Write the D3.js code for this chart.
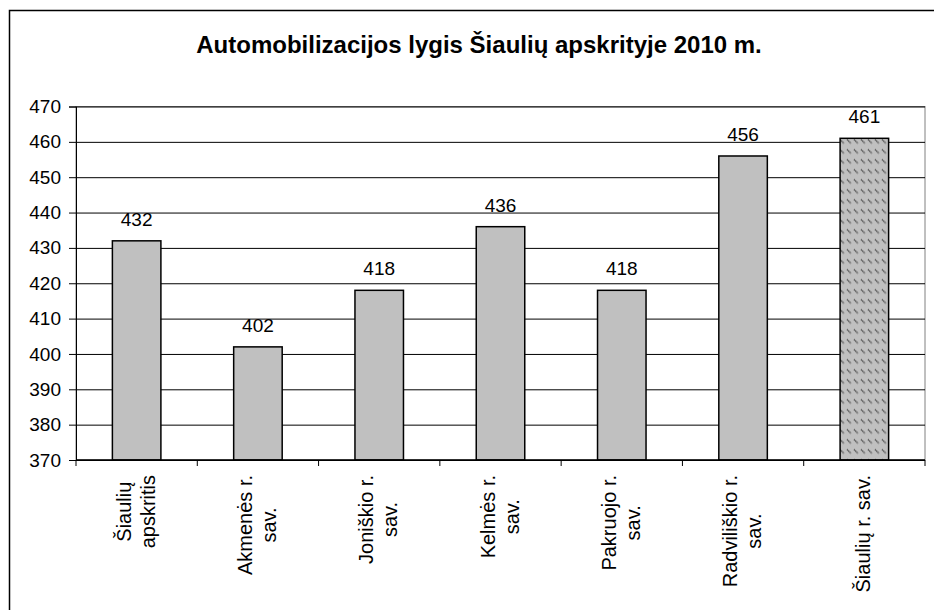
<!DOCTYPE html>
<html>
<head>
<meta charset="utf-8">
<script src="https://cdn.jsdelivr.net/npm/d3@7"></script>
<style>
  body { margin: 0; background: #fff; }
  svg { font-family: Arial, "Liberation Sans", sans-serif; }
</style>
</head>
<body>
<script>
// data
var categories = ["Šiaulių\napskritis", "Akmenės r.\nsav.", "Joniškio r.\nsav.", "Kelmės r.\nsav.",
                  "Pakruojo r.\nsav.", "Radviliškio r.\nsav.", "Šiaulių r. sav."];
var values = [432, 402, 418, 436, 418, 456, 461];
var yTicks = [370, 380, 390, 400, 410, 420, 430, 440, 450, 460, 470];
var titleText = "Automobilizacijos lygis Šiaulių apskrityje 2010 m.";

var W = 934, H = 610;
var margin = { top: 106.5, left: 76 };
var width = 925 - margin.left,
    height = 460 - margin.top;

var svg = d3.select("body").append("svg")
    .attr("width", W)
    .attr("height", H);

// chart area border (runs off the frame on right and bottom)
svg.append("rect")
    .attr("x", 9.5).attr("y", 10.5)
    .attr("width", 1000).attr("height", 1000)
    .attr("fill", "#fff")
    .attr("stroke", "#000")
    .attr("stroke-width", 1.5);

svg.append("text")
    .attr("x", 479)
    .attr("y", 53)
    .attr("text-anchor", "middle")
    .style("font-size", "24px")
    .style("font-weight", "bold")
    .text(titleText);

var defs = svg.append("defs");
var pat = defs.append("pattern")
    .attr("id", "hatch")
    .attr("patternUnits", "userSpaceOnUse")
    .attr("width", 7).attr("height", 10);
pat.append("rect").attr("width", 7).attr("height", 10).attr("fill", "#c0c0c0");
pat.append("line")
    .attr("x1", 1).attr("y1", 3).attr("x2", 5).attr("y2", 7)
    .attr("stroke", "#333").attr("stroke-width", 1.3)
    .attr("stroke-dasharray", "1.2,0.6");

var g = svg.append("g")
    .attr("transform", "translate(" + margin.left + "," + margin.top + ")");

var x = d3.scaleBand()
    .domain(d3.range(categories.length))
    .range([0, width])
    .paddingInner(0.6)
    .paddingOuter(0.3);

var y = d3.scaleLinear()
    .domain([370, 470])
    .range([height, 0]);

// plot area border
g.append("rect")
    .attr("width", width).attr("height", height)
    .attr("fill", "#fff")
    .attr("stroke", "#808080")
    .attr("stroke-width", 1);

// gridlines
g.append("g")
    .attr("class", "grid")
    .call(d3.axisLeft(y).tickValues(yTicks).tickSize(-width).tickFormat(""))
    .call(function (s) {
        s.select(".domain").remove();
        s.selectAll("line").attr("stroke", "#000").attr("stroke-width", 1);
    });

// bars
g.selectAll(".bar")
    .data(values)
    .enter().append("rect")
    .attr("class", "bar")
    .attr("x", function (d, i) { return x(i); })
    .attr("y", function (d) { return y(d); })
    .attr("width", x.bandwidth())
    .attr("height", function (d) { return height - y(d); })
    .attr("fill", function (d, i) { return i === values.length - 1 ? "url(#hatch)" : "#c0c0c0"; })
    .attr("stroke", "#000")
    .attr("stroke-width", 1.5);

// value labels
g.selectAll(".lbl")
    .data(values)
    .enter().append("text")
    .attr("class", "lbl")
    .attr("x", function (d, i) { return x(i) + x.bandwidth() / 2; })
    .attr("y", function (d) { return y(d) - 15; })
    .attr("text-anchor", "middle")
    .style("font-size", "19px")
    .text(function (d) { return d; });

// y axis
g.append("g")
    .call(d3.axisLeft(y).tickValues(yTicks).tickSize(7).tickPadding(8))
    .call(function (s) {
        s.select(".domain").attr("stroke", "#000");
        s.selectAll("line").attr("stroke", "#000");
        s.selectAll("text").style("font-size", "19px").attr("fill", "#000")
            .style("font-family", "Arial, 'Liberation Sans', sans-serif");
    });

// x axis line + boundary ticks
var step = x.step();
var bounds = d3.range(categories.length + 1).map(function (i) { return x(0) - x.paddingOuter() * step + i * step; });
g.append("line")
    .attr("x1", 0).attr("x2", width)
    .attr("y1", height).attr("y2", height)
    .attr("stroke", "#000").attr("stroke-width", 1.5);
g.selectAll(".xtick")
    .data(bounds)
    .enter().append("line")
    .attr("x1", function (d) { return d; }).attr("x2", function (d) { return d; })
    .attr("y1", height).attr("y2", height + 6)
    .attr("stroke", "#000");

// category labels, rotated, lines centred on each other, block top at axis + 15
var lineH = 24;
var cat = g.selectAll(".cat")
    .data(categories)
    .enter().append("text")
    .attr("class", "cat")
    .attr("text-anchor", "middle")
    .style("font-size", "20px");
cat.selectAll("tspan")
    .data(function (d) { return d.split("\n"); })
    .enter().append("tspan")
    .attr("x", 0)
    .attr("dy", function (d, i) { return i === 0 ? 0 : lineH; })
    .text(function (d) { return d; });
cat.attr("transform", function (d, i) {
    var n = d.split("\n").length;
    var maxLen = d3.max(d3.select(this).selectAll("tspan").nodes(), function (t) { return t.getComputedTextLength(); });
    var cx = x(i) + x.bandwidth() / 2 - (n - 1) * lineH / 2 + 6;
    return "translate(" + cx + "," + (height + 15 + maxLen / 2) + ") rotate(-90)";
});
</script>
</body>
</html>
